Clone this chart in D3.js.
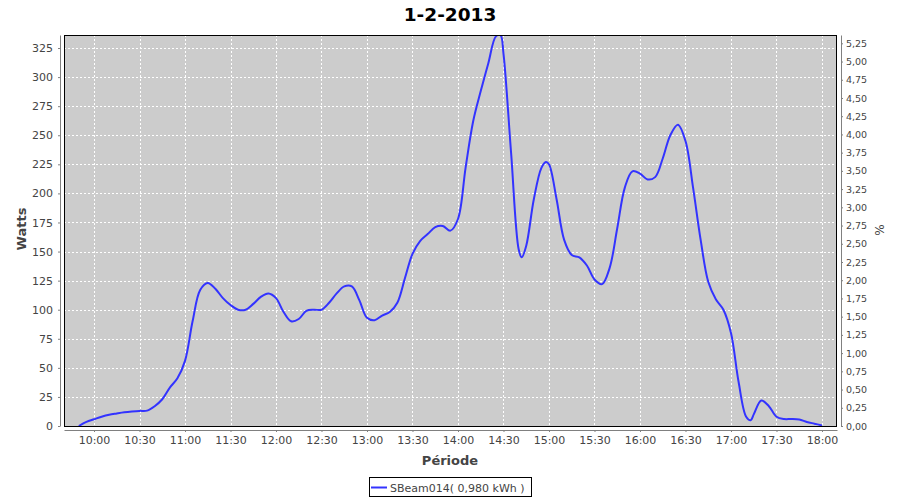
<!DOCTYPE html>
<html>
<head>
<meta charset="utf-8">
<script src="https://cdn.jsdelivr.net/npm/d3@7"></script>
<style>
  html, body { margin: 0; padding: 0; background: #fff; }
  svg { display: block; font-family: "DejaVu Sans", sans-serif; }
</style>
</head>
<body>
<svg id="chart" width="900" height="500"></svg>
<script>
// ---- data ----
const chartTitle = "1-2-2013";
const seriesName = "SBeam014( 0,980 kWh )";
const times = ["09:50","09:55","10:00","10:05","10:10","10:15","10:20","10:25","10:30","10:35",
  "10:40","10:45","10:50","10:55","11:00","11:05","11:10","11:15","11:20","11:25",
  "11:30","11:35","11:40","11:45","11:50","11:55","12:00","12:05","12:10","12:15",
  "12:20","12:25","12:30","12:35","12:40","12:45","12:50","12:55","13:00","13:05",
  "13:10","13:15","13:20","13:25","13:30","13:35","13:40","13:45","13:50","13:55",
  "14:00","14:05","14:10","14:15","14:20","14:25","14:28","14:30","14:35","14:40",
  "14:42","14:45","14:50","14:55","14:58","15:00","15:05","15:10","15:15","15:20",
  "15:25","15:30","15:35","15:40","15:45","15:50","15:55","16:00","16:05","16:10",
  "16:15","16:20","16:25","16:30","16:35","16:40","16:45","16:50","16:55","17:00",
  "17:05","17:10","17:13","17:15","17:20","17:25","17:30","17:35","17:40","17:45",
  "17:50","17:55","18:00"];
const watts = [0,3.5,5.8,8,9.7,10.8,11.8,12.5,13,13.2,
  17,23,33,41,56,90,117,123,118,110,
  104,100,100,105,111,114,110,98,90,92,
  99,100,100,106,114,120,120,108,93,91,
  95,98,106,127,148,159,165,171,172,168,
  178,222,262,288,312,335,336,320,235,152,
  145,155,195,222,227,225,195,160,147,145,
  138,126,122,136,170,205,219,217,212,214,
  230,250,259,245,205,160,124,109,100,80,
  38,8,5,10,22,17,8,6,6,5.5,
  3.5,2,0.5];
const xTickLabels = ["10:00","10:30","11:00","11:30","12:00","12:30","13:00","13:30","14:00",
  "14:30","15:00","15:30","16:00","16:30","17:00","17:30","18:00"];
const leftTicks = [0,25,50,75,100,125,150,175,200,225,250,275,300,325];
const rightTicks = [0,0.25,0.5,0.75,1,1.25,1.5,1.75,2,2.25,2.5,2.75,3,3.25,3.5,3.75,4,4.25,4.5,4.75,5,5.25];
const domainStart = "09:40:13", domainEnd = "18:09:54";
const wattsMax = 336.2, pctMax = 5.364;

// ---- layout ----
const pL = 64, pR = 837, pT = 35, pB = 426;
const svg = d3.select("#chart");
const parse = s => { const p = s.split(":").map(Number); return new Date(2013, 1, 1, p[0], p[1], p[2] || 0); };

const x = d3.scaleTime().domain([parse(domainStart), parse(domainEnd)]).range([pL, pR]);
const y = d3.scaleLinear().domain([0, wattsMax]).range([pB, pT]);
const y2 = d3.scaleLinear().domain([0, pctMax]).range([pB, pT]);

const data = times.map((t, i) => ({ t: parse(t), v: watts[i] }));
const xTicks = xTickLabels.map(parse);

// title
svg.append("text").attr("x", 450).attr("y", 21).attr("text-anchor", "middle")
  .attr("font-size", 18.5).attr("font-weight", "bold").attr("fill", "#000").text(chartTitle);

// plot background
svg.append("rect").attr("x", pL).attr("y", pT).attr("width", pR - pL).attr("height", pB - pT)
  .attr("fill", "#cccccc");

// grid
const grid = svg.append("g").attr("stroke", "#fff").attr("stroke-width", 1).attr("stroke-dasharray", "2,2");
xTicks.forEach(d => {
  const xx = Math.round(x(d)) + 0.5;
  grid.append("line").attr("x1", xx).attr("x2", xx).attr("y1", pT).attr("y2", pB);
});
leftTicks.forEach(d => {
  const yy = Math.round(y(d)) + 0.5;
  if (d === 0) return;
  grid.append("line").attr("x1", pL).attr("x2", pR).attr("y1", yy).attr("y2", yy);
});

// line
svg.append("clipPath").attr("id", "clip").append("rect")
  .attr("x", pL).attr("y", pT).attr("width", pR - pL).attr("height", pB - pT);
const line = d3.line().x(d => x(d.t)).y(d => y(d.v)).curve(d3.curveCatmullRom.alpha(0.5));
svg.append("path").datum(data).attr("clip-path", "url(#clip)")
  .attr("fill", "none").attr("stroke", "#3333ff").attr("stroke-width", 2)
  .attr("stroke-linejoin", "round").attr("d", line);

// plot border
svg.append("rect").attr("x", pL + 0.5).attr("y", pT + 0.5).attr("width", pR - pL - 1).attr("height", pB - pT)
  .attr("fill", "none").attr("stroke", "#000").attr("stroke-width", 1);

// axes
const axisColor = "#808080", labelColor = "#444";
const fmtPct = d => d3.format(".2f")(d).replace(".", ",");

const gx = svg.append("g").attr("transform", `translate(0,${pB + 4})`)
  .call(d3.axisBottom(x).tickValues(xTicks).tickFormat(d3.timeFormat("%H:%M")).tickSize(2).tickSizeOuter(0).tickPadding(4));
const gy = svg.append("g").attr("transform", `translate(${pL - 4},0)`)
  .call(d3.axisLeft(y).tickValues(leftTicks).tickSize(2).tickSizeOuter(0).tickPadding(5));
const gy2 = svg.append("g").attr("transform", `translate(${pR + 4},0)`)
  .call(d3.axisRight(y2).tickValues(rightTicks).tickFormat(fmtPct).tickSize(2).tickSizeOuter(0).tickPadding(3));

[gx, gy, gy2].forEach(g => {
  g.select(".domain").attr("stroke", axisColor);
  g.selectAll(".tick line").attr("stroke", axisColor);
  g.selectAll(".tick text").attr("fill", labelColor).attr("font-family", "DejaVu Sans, sans-serif");
});
gx.selectAll(".tick text").attr("font-size", 11);
gy.selectAll(".tick text").attr("font-size", 11);
gy2.selectAll(".tick text").attr("font-size", 9.5);

// axis titles
svg.append("text").attr("x", 450).attr("y", 465).attr("text-anchor", "middle")
  .attr("font-size", 13).attr("font-weight", "bold").attr("fill", "#444").text("Période");
svg.append("text").attr("transform", "translate(25.5,229) rotate(-90)").attr("text-anchor", "middle")
  .attr("font-size", 13).attr("font-weight", "bold").attr("fill", "#444").text("Watts");
svg.append("text").attr("transform", "translate(884,230) rotate(-90)").attr("text-anchor", "middle")
  .attr("font-size", 12).attr("fill", "#444").text("%");

// legend
const lg = svg.append("g");
lg.append("rect").attr("x", 369.5).attr("y", 477.5).attr("width", 162).attr("height", 19)
  .attr("fill", "#fff").attr("stroke", "#000").attr("stroke-width", 1);
lg.append("line").attr("x1", 371).attr("x2", 387).attr("y1", 487.5).attr("y2", 487.5)
  .attr("stroke", "#3333ff").attr("stroke-width", 2);
lg.append("text").attr("x", 390).attr("y", 491.5).attr("font-size", 11).attr("fill", "#444").text(seriesName);
</script>
</body>
</html>
